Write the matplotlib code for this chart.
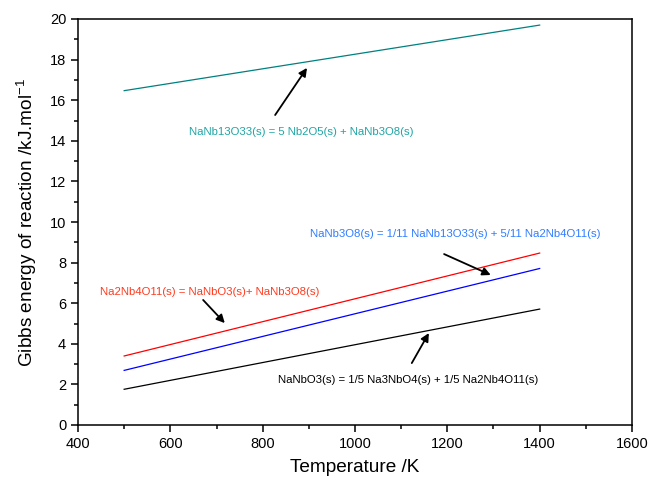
import matplotlib.pyplot as plt
import numpy as np

plt.rcParams['font.family'] = ['Liberation Sans', 'DejaVu Sans']

# temperature end points (K) and Gibbs energies (kJ/mol)
temps = [500, 1400]
g_nb13 = [16.47, 19.70]
g_na2nb4 = [3.40, 8.47]
g_nanb3 = [2.69, 7.71]
g_nanbo3 = [1.76, 5.71]

labels = [
    "NaNb13O33(s) = 5 Nb2O5(s) + NaNb3O8(s)",
    "Na2Nb4O11(s) = NaNbO3(s)+ NaNb3O8(s)",
    "NaNb3O8(s) = 1/11 NaNb13O33(s) + 5/11 Na2Nb4O11(s)",
    "NaNbO3(s) = 1/5 Na3NbO4(s) + 1/5 Na2Nb4O11(s)",
]
label_pos = [(883, 14.43), (685, 6.55), (1217, 9.41), (1116, 2.22)]
arrow_tail = [(827, 15.27), (671, 6.16), (1193, 8.42), (1123, 3.05)]
arrow_head = [(896, 17.59), (718, 5.02), (1294, 7.39), (1160, 4.53)]

line_colors = ["#008080", "#ff0000", "#0000ff", "#000000"]
text_colors = ["#1fa5a5", "#ff3b1f", "#2f7dff", "#000000"]

fig = plt.figure(figsize=(6.52, 4.84), dpi=100)
ax = fig.add_axes([78/652, 59/484, 554/652, 406/484])

for g, c in zip([g_nb13, g_na2nb4, g_nanb3, g_nanbo3], line_colors):
    ax.plot(temps, g, color=c, lw=0.9)

for lab, pos, tail, head, tc in zip(labels, label_pos, arrow_tail, arrow_head, text_colors):
    ax.text(pos[0], pos[1], lab, color=tc, fontsize=8.2, ha='center', va='center')
    ax.annotate("", xy=head, xytext=tail,
                arrowprops=dict(arrowstyle='-|>', color='black', lw=1.3,
                                mutation_scale=12, shrinkA=0, shrinkB=0))

ax.set_xlim(400, 1600)
ax.set_ylim(0, 20)
ax.set_xticks(np.arange(400, 1601, 200))
ax.set_xticks(np.arange(500, 1600, 200), minor=True)
ax.set_yticks(np.arange(0, 21, 2))
ax.set_yticks(np.arange(1, 20, 2), minor=True)
ax.tick_params(which='both', direction='out', width=1.1, labelsize=10.5,
               top=False, right=False)
ax.tick_params(which='major', length=5)
ax.tick_params(which='minor', length=3)
for s in ax.spines.values():
    s.set_linewidth(1.1)

ax.set_xlabel("Temperature /K", fontsize=13.7, labelpad=6)
ax.set_ylabel("Gibbs energy of reaction /kJ.mol$^{\\mathregular{-1}}$", fontsize=13.7, labelpad=8)

fig.savefig("out.png", dpi=100)
